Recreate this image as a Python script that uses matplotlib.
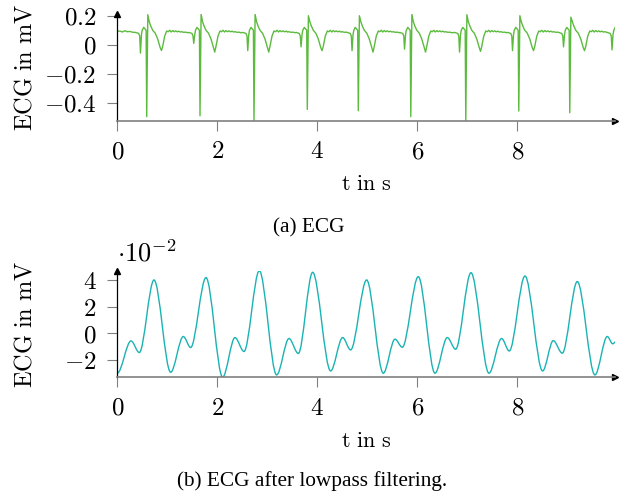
import matplotlib
matplotlib.use("Agg")
import numpy as np
from matplotlib import pyplot as plt
from matplotlib.path import Path
from matplotlib.patches import PathPatch
from matplotlib.ticker import FuncFormatter

# --- raw ECG ---
r_times = [0.588, 1.654, 2.734, 3.80, 4.82, 5.87, 6.97, 8.03, 9.05, 10.02]
r_depth = [-0.494, -0.488, -0.524, -0.444, -0.453, -0.494, -0.524, -0.455, -0.467, -0.50]
r_up = [0.207, 0.21, 0.21, 0.20, 0.20, 0.21, 0.207, 0.20, 0.19, 0.20]
q_depth = [-0.057, 0.01, -0.04, -0.014, -0.04, -0.03, -0.05, -0.04, -0.014, -0.035]
t_depth = [-0.039, -0.05, -0.05, -0.04, -0.05, -0.05, -0.045, -0.04, -0.04, -0.04]

# beat shape relative to the R spike; letters = per-beat value
beat_off = [-0.22, -0.16, -0.14, -0.125, -0.105, -0.09, -0.06, -0.035, -0.012,
            0.0, 0.022, 0.05, 0.08, 0.12, 0.17, 0.22, 0.27, 0.295, 0.32, 0.36,
            0.40, 0.43, 0.46, 0.49, 0.52, 0.55, 0.58, 0.61, 0.64, 0.67, 0.70,
            0.74, 0.78, 0.82]
beat_val = [0.085, 0.078, 0.06, 'Q', 0.07, 0.10, 0.12, 0.11, 0.10,
            'R', 'U', 0.16, 0.13, 0.10, 0.08, 0.04, -0.02, 'T', -0.01, 0.06,
            0.095, 0.09, 0.10, 0.088, 0.098, 0.09, 0.096, 0.089, 0.094, 0.088, 0.09,
            0.086, 0.087, 0.083]

lead_t = [0.0, 0.05, 0.10, 0.15, 0.20, 0.25, 0.30]
lead_v = [0.092, 0.095, 0.088, 0.097, 0.09, 0.092, 0.087]

# --- lowpass filtered ECG, extrema (x1e-2 mV) ---
lp_t = [0.0, 0.274, 0.44, 0.734, 1.067, 1.32, 1.467, 1.774, 2.107, 2.354, 2.534,
        2.84, 3.187, 3.434, 3.62, 3.907, 4.267, 4.507, 4.667, 4.987, 5.32, 5.554,
        5.70, 6.02, 6.354, 6.60, 6.767, 7.074, 7.434, 7.687, 7.84, 8.154, 8.507,
        8.72, 8.90, 9.20, 9.554, 9.80, 9.91, 9.974]
lp_v = [-3.02, -0.58, -1.46, 4.02, -2.95, -0.25, -1.08, 4.20, -3.32, -0.33, -1.38,
        4.72, -3.15, -0.40, -1.53, 4.60, -2.85, -0.33, -1.26, 4.02, -3.02, -0.45,
        -1.06, 4.27, -3.02, -0.33, -1.21, 4.57, -3.02, -0.40, -1.34, 4.32, -2.85,
        -0.56, -1.51, 3.90, -3.15, -0.25, -0.80, -0.63]

t_end = 9.96

# assemble raw trace
ecg_t = list(lead_t)
ecg_v = list(lead_v)
for i, tr in enumerate(r_times):
    nxt = r_times[i + 1] + beat_off[0] if i + 1 < len(r_times) else t_end + 1
    per = {'Q': q_depth[i], 'R': r_depth[i], 'U': r_up[i], 'T': t_depth[i]}
    for o, v in zip(beat_off, beat_val):
        t = tr + o
        if t >= nxt or t > t_end:
            break
        ecg_t.append(t)
        ecg_v.append(per[v] if isinstance(v, str) else v)

plt.rcParams['mathtext.fontset'] = 'cm'
plt.rcParams['font.family'] = 'DejaVu Serif'

green = '#5cbb3e'
teal = '#1ab3b3'
gray = '#808080'

fig = plt.figure(figsize=(6.24, 4.92), dpi=100)
ax1 = fig.add_axes([0.188, 0.754, 0.798, 0.217])
ax2 = fig.add_axes([0.188, 0.2331, 0.798, 0.2167])

ax1.plot(ecg_t, ecg_v, color=green, lw=1.0)
ax1.set_xlim(0, t_end)
ax1.set_ylim(-0.524, 0.21)
ax1.set_yticks([-0.4, -0.2, 0, 0.2])

verts = [(lp_t[0], lp_v[0])]
codes = [Path.MOVETO]
for i in range(len(lp_t) - 1):
    dt = lp_t[i + 1] - lp_t[i]
    verts += [(lp_t[i] + dt / 3, lp_v[i]), (lp_t[i + 1] - dt / 3, lp_v[i + 1]),
              (lp_t[i + 1], lp_v[i + 1])]
    codes += [Path.CURVE4] * 3
ax2.add_patch(PathPatch(Path(verts, codes), fill=False, edgecolor=teal, lw=1.0))
ax2.set_xlim(0, t_end)
ax2.set_ylim(-3.33, 4.72)
ax2.set_yticks([-2, 0, 2, 4])
ax2.text(0, 1.035, r'$\cdot 10^{-2}$', transform=ax2.transAxes, fontsize=19,
         ha='left', va='bottom')

fmt = FuncFormatter(lambda v, p: f'${v:g}$')
for ax in (ax1, ax2):
    ax.set_xticks([0, 2, 4, 6, 8])
    ax.xaxis.set_major_formatter(fmt)
    ax.yaxis.set_major_formatter(fmt)
    ax.spines['top'].set_visible(False)
    ax.spines['right'].set_visible(False)
    ax.spines['left'].set_color('black')
    ax.spines['left'].set_linewidth(0.9)
    ax.spines['bottom'].set_color(gray)
    ax.spines['bottom'].set_linewidth(1.2)
    ax.tick_params(direction='out', length=7, width=0.8, color=gray,
                   labelsize=18)
    ax.tick_params(axis='x', pad=7)
    ax.tick_params(axis='y', pad=8)
    ax.plot(1, 0, '>', color='black', ms=5, transform=ax.transAxes, clip_on=False)
    ax.plot(0, 1, '^', color='black', ms=5, transform=ax.transAxes, clip_on=False)
    ax.set_xlabel(r'$\mathrm{t\ in\ s}$', fontsize=16, va='top')
    ax.xaxis.set_label_coords(0.5, -0.49)
    ax.set_ylabel(r'$\mathrm{ECG\ in\ mV}$', fontsize=17.5)
    ax.yaxis.set_label_coords(-0.163, 0.5)

fig.text(0.4945, 1 - 232 / 492, '(a) ECG', family='Liberation Serif',
         fontsize=15.3, ha='center', va='baseline')
fig.text(0.4995, 6 / 492, '(b) ECG after lowpass filtering.',
         family='Liberation Serif', fontsize=15.3, ha='center', va='baseline')

fig.savefig('out.png', dpi=100)
